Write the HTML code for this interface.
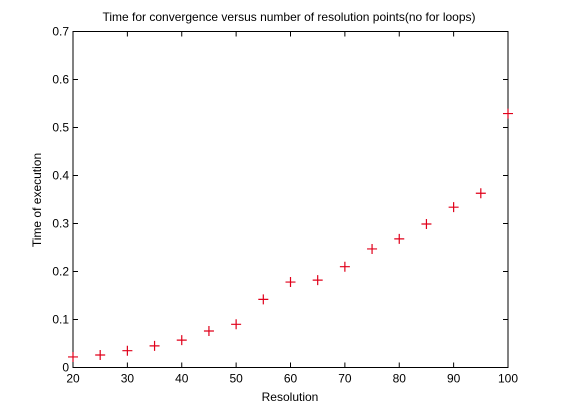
<!DOCTYPE html>
<html><head><meta charset="utf-8"><style>
html,body{margin:0;padding:0;background:#fff;}
svg{display:block;font-family:"Liberation Sans",sans-serif;}
</style></head><body>
<svg id="chart" width="561" height="414">
<rect width="561" height="414" fill="#fff"/>
<text x="289" y="21" font-size="12" text-anchor="middle">Time for convergence versus number of resolution points(no for loops)</text>
<text x="290" y="401" font-size="12" text-anchor="middle">Resolution</text>
<text x="0" y="0" font-size="12" text-anchor="middle" transform="translate(41,200) rotate(-90)">Time of execution</text>
<g id="plot"></g>
</svg>
<script>
const xValues=[20,25,30,35,40,45,50,55,60,65,70,75,80,85,90,95,100];
const yValues=[0.022,0.026,0.035,0.045,0.057,0.076,0.090,0.142,0.178,0.182,0.210,0.247,0.268,0.299,0.334,0.363,0.529];
const xTicks=[20,30,40,50,60,70,80,90,100];
const yTicks=[0,0.1,0.2,0.3,0.4,0.5,0.6,0.7];
const L=73,R=508,T=31.5,B=367.5;
const xs=v=>L+(v-20)/80*(R-L);
const ys=v=>B-v/0.7*(B-T);
const g=document.getElementById('plot');
const NS='http://www.w3.org/2000/svg';
function mk(t,a){const e=document.createElementNS(NS,t);for(const k in a)e.setAttribute(k,a[k]);g.appendChild(e);return e;}
const box=mk('rect',{x:L,y:T,width:R-L,height:B-T,fill:'none',stroke:'#000','stroke-width':1});


xTicks.forEach(v=>{const x=xs(v);
const t1=mk('line',{x1:x,x2:x,y1:B,y2:B-5,stroke:'#000'});


const t2=mk('line',{x1:x,x2:x,y1:T,y2:T+5,stroke:'#000'});


const tx=mk('text',{x:x,y:B+15,'font-size':12,'text-anchor':'middle'});tx.textContent=v;


});
yTicks.forEach(v=>{const y=ys(v);
const t1=mk('line',{x1:L,x2:L+5,y1:y,y2:y,stroke:'#000'});


const t2=mk('line',{x1:R,x2:R-5,y1:y,y2:y,stroke:'#000'});


const tx=mk('text',{x:L-4,y:y+4,'font-size':12,'text-anchor':'end'});tx.textContent=v===0?'0':v.toFixed(1);


});
xValues.forEach((v,i)=>{const x=xs(v),y=ys(yValues[i]);
const p=mk('path',{d:`M${x-5},${y}H${x+5}M${x},${y-5}V${y+5}`,stroke:'#e0001a','stroke-width':1.2,fill:'none'});


});
</script>
</body></html>
